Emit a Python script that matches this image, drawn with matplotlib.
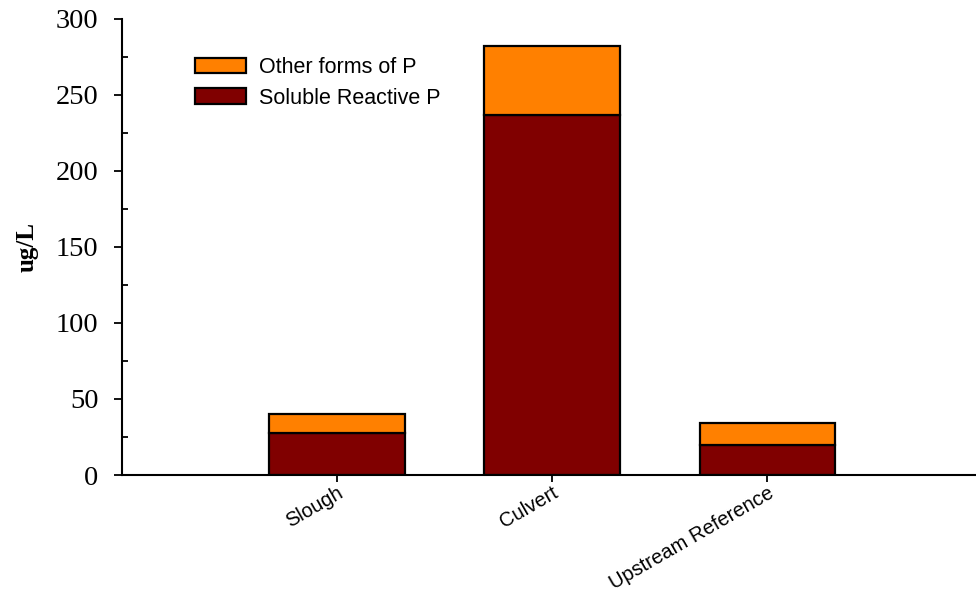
import numpy as np
import matplotlib
matplotlib.use('Agg')
import matplotlib.pyplot as plt
from matplotlib.ticker import MultipleLocator

sites = ['Slough', 'Culvert', 'Upstream Reference']
srp = [27.5, 237, 19.5]
other = [12.5, 45, 15]

orange = '#FF8000'
darkred = '#800000'

fig = plt.figure(figsize=(9.76, 5.94), dpi=100)
ax = fig.add_axes([0.125, 0.2003, 0.875, 0.768])

x = np.arange(len(sites))
w = 0.63
ax.bar(x, srp, w, color=darkred, edgecolor='black', linewidth=1.6, label='Soluble Reactive P')
ax.bar(x, other, w, bottom=srp, color=orange, edgecolor='black', linewidth=1.6, label='Other forms of P')

ax.set_xlim(-1.0, 2.97)
ax.set_ylim(0, 300)
ax.yaxis.set_major_locator(MultipleLocator(50))
ax.yaxis.set_minor_locator(MultipleLocator(25))

for s in ['top', 'right']:
    ax.spines[s].set_visible(False)
for s in ['left', 'bottom']:
    ax.spines[s].set_linewidth(1.5)

ax.tick_params(axis='y', which='major', direction='out', length=6, width=1.3,
               labelsize=20.5, labelfontfamily='Liberation Serif', pad=11)
ax.tick_params(axis='y', which='minor', direction='in', length=4.5, width=1.3)
ax.tick_params(axis='x', direction='out', length=5, width=1.3, pad=1)

ax.set_xticks(x)
ax.set_xticklabels(sites, rotation=30, ha='right', rotation_mode='anchor',
                   fontsize=14.5, family='Liberation Sans')

ax.set_ylabel('ug/L', fontsize=18, family='Liberation Serif', fontweight='bold', labelpad=12)

handles, labels = ax.get_legend_handles_labels()
leg = ax.legend(handles[::-1], labels[::-1], loc='upper left', bbox_to_anchor=(0.0756, 0.935),
                frameon=False, prop={'family': 'Liberation Sans', 'size': 15.5},
                handlelength=2.35, handleheight=0.75, handletextpad=0.6, labelspacing=0.45,
                borderaxespad=0)

fig.savefig('out.png', dpi=100)
